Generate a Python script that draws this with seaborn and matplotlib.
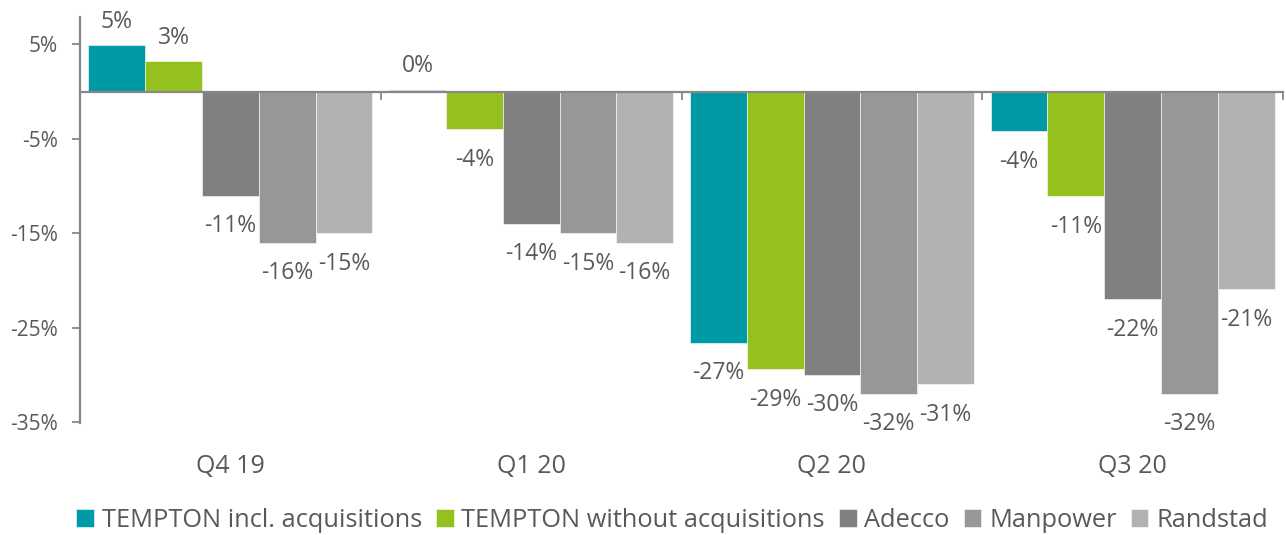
import pandas as pd
import matplotlib.pyplot as plt
import seaborn as sns

# Data (quarterly change, %)
quarters = ["Q4 19", "Q1 20", "Q2 20", "Q3 20"]
series = ["TEMPTON incl. acquisitions", "TEMPTON without acquisitions",
          "Adecco", "Manpower", "Randstad"]
tempton_incl = [4.9, 0.2, -26.6, -4.2]
tempton_without = [3.2, -4.0, -29.4, -11.1]
adecco = [-11.0, -14.0, -30.0, -22.0]
manpower = [-16.0, -15.0, -32.0, -32.0]
randstad = [-15.0, -16.0, -31.0, -20.9]
yticks = [5, -5, -15, -25, -35]

colors = ["#009AA6", "#95C11F", "#808080", "#979797", "#B2B2B2"]
text_color = "#595959"
axis_color = "#878787"

# Long format for seaborn
values = [tempton_incl, tempton_without, adecco, manpower, randstad]
rows = []
for name, vals in zip(series, values):
    for q, v in zip(quarters, vals):
        rows.append({"Quarter": q, "Series": name, "Value": v})
df = pd.DataFrame(rows)

sns.set_style("white")
plt.rcParams["font.family"] = ["Open Sans", "DejaVu Sans"]

fig = plt.figure(figsize=(12.86, 5.35), dpi=100)
ax = fig.add_axes([0.0622, 0.2093, 0.9355, 0.7587])

sns.barplot(data=df, x="Quarter", y="Value", hue="Series", order=quarters,
            hue_order=series, palette=colors, saturation=1, width=0.944,
            gap=0, edgecolor="white", linewidth=0.4, ax=ax, legend=True)

ax.set_xlim(-0.5, 3.5)
ax.set_ylim(-35.1, 7.9)

# Value labels
for container, name in zip(ax.containers, series):
    for bar in container:
        v = bar.get_height()
        xc = bar.get_x() + bar.get_width() / 2
        off = 17 if v >= 0 else -22
        ax.annotate(f"{v:.0f}%", xy=(xc, v), xytext=(0, off),
                    textcoords="offset points", ha="center", va="center",
                    fontsize=16.5, color=text_color)

# Axes styling
ax.spines["top"].set_visible(False)
ax.spines["right"].set_visible(False)
ax.spines["bottom"].set_position(("data", 0))
for s in ["left", "bottom"]:
    ax.spines[s].set_color(axis_color)
    ax.spines[s].set_linewidth(1.6)
    ax.spines[s].set_zorder(5)

ax.set_yticks(yticks)
ax.set_yticklabels([f"{t}%" for t in yticks])
ax.tick_params(axis="y", direction="out", length=6, width=1.3,
               color=axis_color, labelsize=15, labelcolor=text_color, pad=10)
ax.yaxis.set_ticks_position("left")

ax.set_xticks([0.5, 1.5, 2.5, 3.5])
ax.set_xticklabels([])
ax.tick_params(axis="x", direction="out", length=6, width=1.3,
               color=axis_color, bottom=True)
ax.set_xlabel("")
ax.set_ylabel("")

# Category labels below the plot area
for i, q in enumerate(quarters):
    ax.annotate(q, xy=(i, 0), xycoords=("data", "axes fraction"),
                xytext=(0, -31), textcoords="offset points",
                ha="center", va="center", fontsize=18, color=text_color)

# Legend
handles, labels = ax.get_legend_handles_labels()
ax.get_legend().remove()
fig.legend(handles, labels, loc="center", bbox_to_anchor=(0.5226, 0.027),
           ncol=5, frameon=False, fontsize=18.3, labelcolor=text_color,
           handlelength=0.7, handleheight=0.7, handletextpad=0.3,
           columnspacing=0.55, borderaxespad=0)

fig.savefig("out.png", dpi=100)
